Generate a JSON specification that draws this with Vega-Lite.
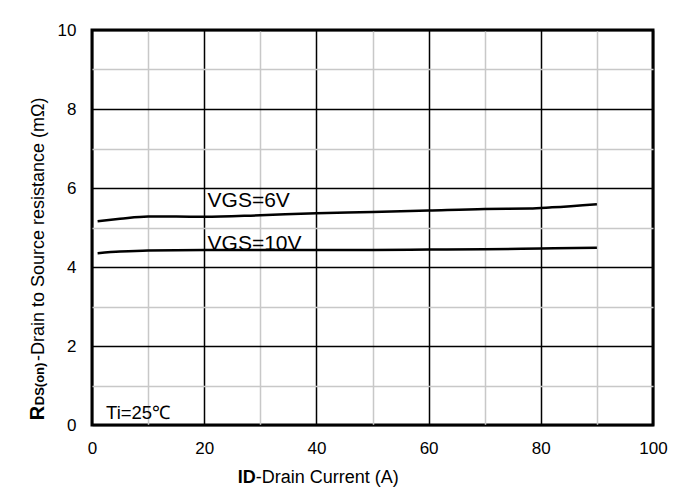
{
  "$schema": "https://vega.github.io/schema/vega-lite/v6.json",
  "width": 561,
  "height": 395,
  "autosize": {"type": "none"},
  "padding": {"left": 92, "top": 30, "right": 26, "bottom": 67},
  "background": "white",
  "config": {
    "view": {"stroke": "#000000", "strokeWidth": 3},
    "font": "Liberation Sans",
    "axis": {
      "labelFont": "Liberation Sans",
      "labelFontSize": 17,
      "labelColor": "#000000",
      "labelFlush": false,
      "labelOverlap": false,
      "ticks": false,
      "domain": false,
      "title": null,
      "grid": true,
      "gridWidth": 1.5
    }
  },
  "datasets": {
    "curves": [
      {"id": 1, "rds": 5.16, "vgs": "6V"},
      {"id": 5, "rds": 5.22, "vgs": "6V"},
      {"id": 10, "rds": 5.28, "vgs": "6V"},
      {"id": 15, "rds": 5.28, "vgs": "6V"},
      {"id": 20, "rds": 5.27, "vgs": "6V"},
      {"id": 30, "rds": 5.31, "vgs": "6V"},
      {"id": 40, "rds": 5.36, "vgs": "6V"},
      {"id": 50, "rds": 5.39, "vgs": "6V"},
      {"id": 60, "rds": 5.43, "vgs": "6V"},
      {"id": 70, "rds": 5.47, "vgs": "6V"},
      {"id": 78, "rds": 5.48, "vgs": "6V"},
      {"id": 82, "rds": 5.51, "vgs": "6V"},
      {"id": 90, "rds": 5.59, "vgs": "6V"},
      {"id": 1, "rds": 4.35, "vgs": "10V"},
      {"id": 5, "rds": 4.39, "vgs": "10V"},
      {"id": 10, "rds": 4.42, "vgs": "10V"},
      {"id": 20, "rds": 4.43, "vgs": "10V"},
      {"id": 30, "rds": 4.43, "vgs": "10V"},
      {"id": 40, "rds": 4.43, "vgs": "10V"},
      {"id": 50, "rds": 4.43, "vgs": "10V"},
      {"id": 60, "rds": 4.44, "vgs": "10V"},
      {"id": 70, "rds": 4.45, "vgs": "10V"},
      {"id": 80, "rds": 4.47, "vgs": "10V"},
      {"id": 90, "rds": 4.49, "vgs": "10V"}
    ],
    "curveLabels": [
      {"id": 20.6, "rds": 5.52, "label": "VGS=6V"},
      {"id": 20.6, "rds": 4.44, "label": "VGS=10V"}
    ],
    "note": [
      {"id": 2.5, "rds": 0.15, "label": "Ti=25℃"}
    ],
    "xTitleBold": [{"id": 29.2, "rds": -1.47, "label": "ID"}],
    "xTitleRest": [{"id": 29.2, "rds": -1.47, "label": "-Drain Current  (A)"}],
    "yTitleR": [{"id": -8.47, "rds": 0.12, "label": "R"}],
    "yTitleSub": [{"id": -8.47, "rds": 0.5, "label": "DS(on)"}],
    "yTitleRest": [{"id": -8.47, "rds": 1.62, "label": " -Drain to Source resistance (mΩ)"}]
  },
  "encoding": {
    "x": {
      "field": "id",
      "type": "quantitative",
      "scale": {"domain": [0, 100], "nice": false, "zero": false},
      "axis": {
        "values": [0, 10, 20, 30, 40, 50, 60, 70, 80, 90, 100],
        "labelExpr": "datum.value % 20 === 0 ? datum.label : ''",
        "labelPadding": 15,
        "gridColor": {"condition": {"test": "datum.value % 20 === 0", "value": "#000000"}, "value": "#c8c8c8"}
      }
    },
    "y": {
      "field": "rds",
      "type": "quantitative",
      "scale": {"domain": [0, 10], "nice": false, "zero": false},
      "axis": {
        "values": [0, 1, 2, 3, 4, 5, 6, 7, 8, 9, 10],
        "labelExpr": "datum.value % 2 === 0 ? datum.label : ''",
        "labelPadding": 16,
        "gridColor": {"condition": {"test": "datum.value % 2 === 0", "value": "#000000"}, "value": "#c8c8c8"}
      }
    }
  },
  "layer": [
    {
      "data": {"name": "curves"},
      "mark": {"type": "line", "color": "#000000", "strokeWidth": 2.5, "interpolate": "monotone"},
      "encoding": {"detail": {"field": "vgs", "type": "nominal"}}
    },
    {
      "data": {"name": "curveLabels"},
      "mark": {"type": "text", "align": "left", "baseline": "alphabetic", "fontSize": 21, "color": "#000000"},
      "encoding": {"text": {"field": "label"}}
    },
    {
      "data": {"name": "note"},
      "mark": {"type": "text", "align": "left", "baseline": "alphabetic", "fontSize": 18.5, "color": "#000000"},
      "encoding": {"text": {"field": "label"}}
    },
    {
      "data": {"name": "xTitleBold"},
      "mark": {"type": "text", "align": "right", "baseline": "alphabetic", "fontSize": 18, "fontWeight": "bold", "color": "#000000"},
      "encoding": {"text": {"field": "label"}}
    },
    {
      "data": {"name": "xTitleRest"},
      "mark": {"type": "text", "align": "left", "baseline": "alphabetic", "fontSize": 18, "color": "#000000"},
      "encoding": {"text": {"field": "label"}}
    },
    {
      "data": {"name": "yTitleR"},
      "mark": {"type": "text", "align": "left", "baseline": "alphabetic", "angle": 270, "fontSize": 20, "fontWeight": "bold", "color": "#000000"},
      "encoding": {"text": {"field": "label"}}
    },
    {
      "data": {"name": "yTitleSub"},
      "mark": {"type": "text", "align": "left", "baseline": "alphabetic", "angle": 270, "fontSize": 13, "fontWeight": "bold", "color": "#000000"},
      "encoding": {"text": {"field": "label"}}
    },
    {
      "data": {"name": "yTitleRest"},
      "mark": {"type": "text", "align": "left", "baseline": "alphabetic", "angle": 270, "fontSize": 18, "color": "#000000"},
      "encoding": {"text": {"field": "label"}}
    }
  ]
}
